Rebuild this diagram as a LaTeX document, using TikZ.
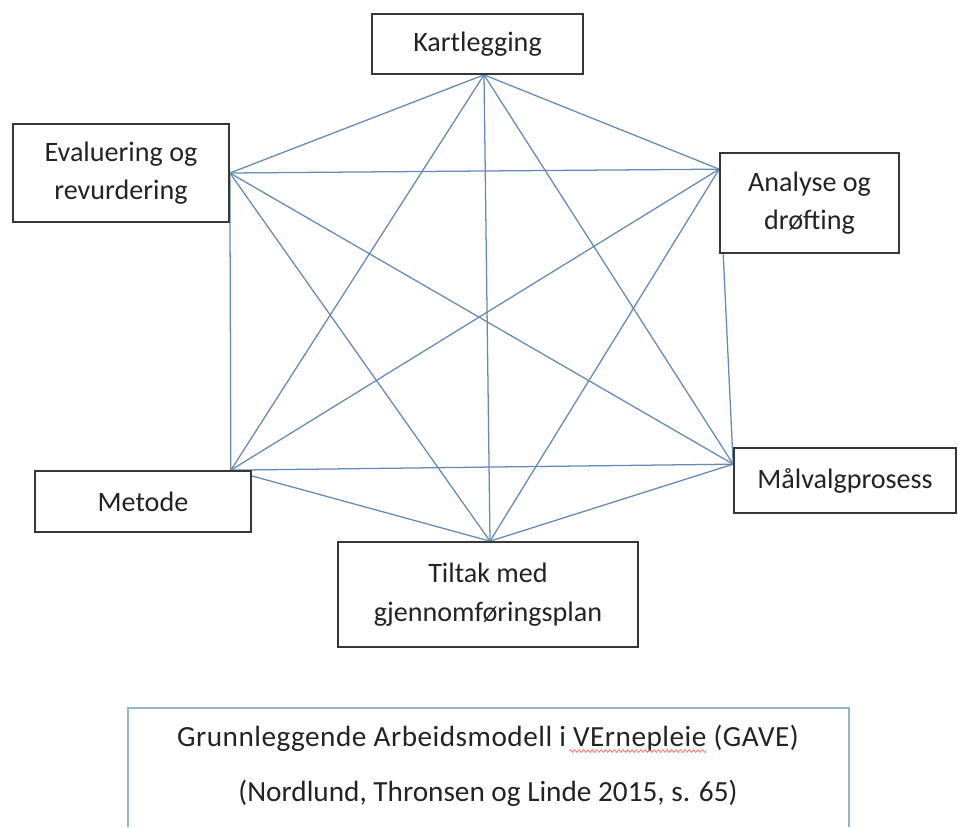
\documentclass[tikz,border=0pt]{standalone}
\usepackage{fontspec}
\setmainfont{Carlito}
\usetikzlibrary{calc,backgrounds,decorations.pathmorphing}
\definecolor{linjeblaa}{RGB}{100,138,180}
\definecolor{rammegraa}{RGB}{55,55,55}
\definecolor{kildeblaa}{RGB}{150,180,205}
\definecolor{tekstgraa}{RGB}{35,35,35}
\tikzset{
  boks/.style={draw=rammegraa, line width=1.2pt, fill=white, align=center, text=tekstgraa,
    inner sep=0pt, font=\fontsize{20}{27.5}\selectfont},
  kant/.style={linjeblaa, line width=0.9pt},
}

\begin{document}
\begin{tikzpicture}[x=0.25mm, y=-0.25mm]
    \useasboundingbox (0,0) rectangle (958,827);
    % boksene
    \node[boks, minimum width=52.75mm, minimum height=15mm] (kart) at (477.5,44) {Kartlegging};
    \node[boks, minimum width=54mm, minimum height=24.5mm] (eval) at (121,173) {Evaluering og\\revurdering};
    \node[boks, minimum width=44.75mm, minimum height=25mm] (anal) at (809.5,203) {Analyse og\\drøfting};
    \node[boks, minimum width=54mm, minimum height=15.25mm] (metode) at (143,501.5) {Metode};
    \node[boks, minimum width=55.5mm, minimum height=16.25mm] (malv) at (845,480.5) {Målvalgprosess};
    \node[boks, minimum width=75mm, minimum height=26.25mm] (tiltak) at (488,594.5) {Tiltak med\\gjennomføringsplan};
    % hjørnene i sekskanten
    \coordinate (pk) at ($(kart.south)+(6.5,0)$);
    \coordinate (pe) at (eval.east);
    \coordinate (pa) at ($(anal.north west)+(0,17)$);
    \coordinate (pm) at ($(malv.north west)+(0,17)$);
    \coordinate (pme) at ($(metode.north east)+(-21,0)$);
    \coordinate (pt) at ($(tiltak.north)+(2,0)$);
    \begin{scope}[on background layer]
        \foreach \a/\b in {pk/pa, pk/pm, pk/pt, pk/pme, pk/pe, pa/pm, pa/pt, pa/pme, pa/pe,
                           pm/pt, pm/pme, pm/pe, pt/pme, pt/pe, pme/pe}
            \draw[kant] (\a) -- (\b);
    \end{scope}
    % kilde
    \draw[kildeblaa, line width=0.8pt] (128,827) -- (128,708) -- (849,708) -- (849,827);
    \node[align=center, text=tekstgraa, font=\fontsize{20.8}{39}\selectfont] (gave) at (488,766)
        {\addfontfeatures{LetterSpace=1.7}Grunnleggende Arbeidsmodell i VErnepleie (GAVE)\\(Nordlund, Thronsen og Linde 2015, s. 65)};
    \draw[red!70, line width=0.4pt, decorate, decoration={snake, amplitude=0.35mm, segment length=1.1mm}]
        (569,751) -- (706,751);
\end{tikzpicture}
\end{document}
